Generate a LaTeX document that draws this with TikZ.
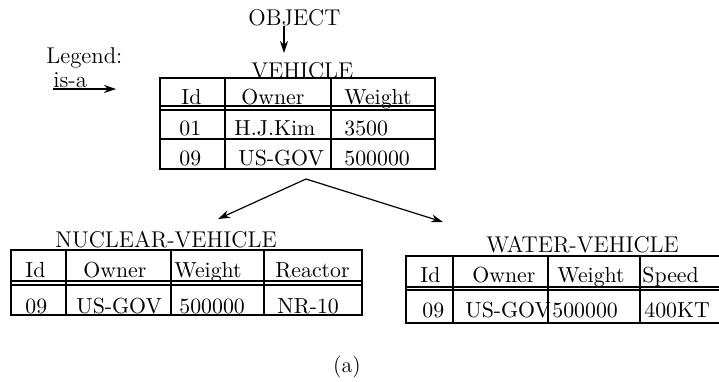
\documentclass[tikz,border=0pt]{standalone}
\usetikzlibrary{arrows.meta}
\begin{document}
\begin{tikzpicture}[x=0.5pt,y=-0.5pt,
  txt/.style={inner sep=0pt, anchor=base west, font=\fontsize{10.9}{13}\selectfont},
  ttl/.style={inner sep=0pt, anchor=base west, font=\fontsize{11.4}{13}\selectfont},
  frame/.style={line width=0.9pt},
  rulex/.style={line width=0.6pt},
  isa/.style={-{Stealth[length=6pt,width=4pt]}, line width=0.6pt}]
\useasboundingbox (0,0) rectangle (719,381);

% top: OBJECT
\node[ttl] (object) at (248,25) {OBJECT};
\coordinate (objtip) at (284,53);
\draw[isa] (object.south -| objtip) -- (objtip);

% legend
\node[ttl] (legend) at (46,63) {Legend:};
\node[ttl] (isatxt) at (53,87) {is-a};
\coordinate (legA) at (53,89);
\coordinate (legB) at (116,89);
\draw[isa] (legA) -- (legB);

% VEHICLE table
\node[ttl] (vtitle) at (251,78) {VEHICLE};
\draw[frame] (160,78) rectangle (435,169);
\draw[rulex] (160,106) -- (435,106);
\draw[rulex] (160,110) -- (435,110);
\draw[frame] (160,139) -- (435,139);
\draw[frame] (225,78) -- (225,169);
\draw[frame] (331,78) -- (331,169);
\node[txt] (vh1) at (181,104) {Id};
\node[txt] (vh2) at (241,104) {Owner};
\node[txt] (vh3) at (344,104) {Weight};
\node[txt] (v11) at (179,135) {01};
\node[txt] (v12) at (234,135) {H.J.Kim};
\node[txt] (v13) at (344,135) {3500};
\node[txt] (v21) at (179,165) {09};
\node[txt] (v22) at (238,165) {US-GOV};
\node[txt] (v23) at (344,165) {500000};

% is-a arrows to subclasses
\coordinate (split) at (306,179);
\coordinate (nuctip) at (218,219);
\coordinate (wattip) at (443,222);
\draw[isa] (split) -- (nuctip);
\draw[isa] (split) -- (wattip);

% NUCLEAR-VEHICLE table
\node[ttl] (ntitle) at (55,247) {NUCLEAR-VEHICLE};
\draw[frame] (11,250) rectangle (362,315);
\draw[rulex] (11,281) -- (362,281);
\draw[rulex] (11,285) -- (362,285);
\draw[frame] (66,250) -- (66,315);
\draw[frame] (171,250) -- (171,315);
\draw[frame] (264,250) -- (264,315);
\node[txt] (nh1) at (25,277) {Id};
\node[txt] (nh2) at (83,277) {Owner};
\node[txt] (nh3) at (174,277) {Weight};
\node[txt] (nh4) at (275,277) {Reactor};
\node[txt] (n11) at (25,313) {09};
\node[txt] (n12) at (76,313) {US-GOV};
\node[txt] (n13) at (179,313) {500000};
\node[txt] (n14) at (277,313) {NR-10};

% WATER-VEHICLE table
\node[ttl] (wtitle) at (486,252) {WATER-VEHICLE};
\draw[frame] (719,256) -- (406,256) -- (406,323) -- (719,323);
\draw[rulex] (406,287) -- (719,287);
\draw[rulex] (406,290) -- (719,290);
\draw[frame] (453,256) -- (453,323);
\draw[frame] (548,256) -- (548,323);
\draw[frame] (640,256) -- (640,323);
\node[txt] (wh1) at (420,282) {Id};
\node[txt] (wh2) at (472,282) {Owner};
\node[txt] (wh3) at (557,282) {Weight};
\node[txt] (wh4) at (642,282) {Speed};
\node[txt] (w11) at (422,317) {09};
\node[txt] (w12) at (465,317) {US-GOV};
\node[txt] (w13) at (552,317) {500000};
\node[txt] (w14) at (644,317) {400KT};

% caption
\node[inner sep=0pt, anchor=base, font=\fontsize{11}{13}\selectfont] (cap) at (347,372) {(a)};
\end{tikzpicture}
\end{document}
